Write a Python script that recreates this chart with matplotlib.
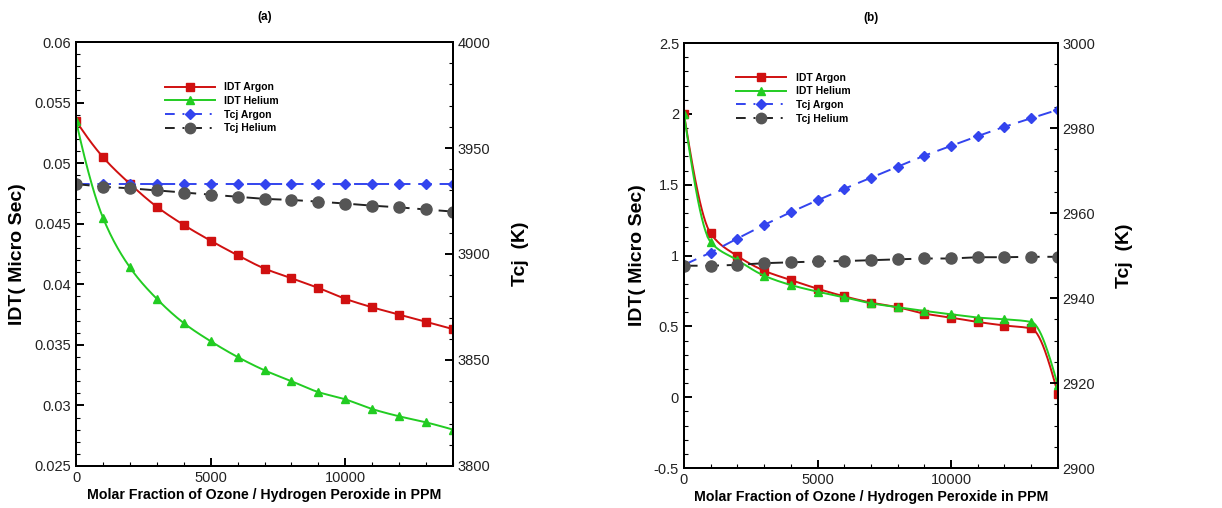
import numpy as np
import matplotlib
matplotlib.use('Agg')
from matplotlib import pyplot as plt
from matplotlib.ticker import MultipleLocator, AutoMinorLocator, FormatStrFormatter
from matplotlib.lines import Line2D

plt.rcParams['font.family'] = ['Liberation Sans', 'DejaVu Sans']

ppm = [0, 1000, 2000, 3000, 4000, 5000, 6000, 7000, 8000, 9000, 10000, 11000, 12000, 13000, 14000]

# panel (a)
idt_argon_a = [0.0535, 0.0505, 0.0483, 0.0464, 0.0449, 0.0436, 0.0424, 0.0413, 0.0405, 0.0397,
               0.0388, 0.0381, 0.0375, 0.0369, 0.0363]
idt_helium_a = [0.0535, 0.0455, 0.0414, 0.0388, 0.0368, 0.0353, 0.0340, 0.0329, 0.0320, 0.0311,
                0.0305, 0.0297, 0.0291, 0.0286, 0.0280]
tcj_argon_a = [3933, 3933, 3933, 3933, 3933, 3933, 3933, 3933, 3933, 3933, 3933, 3933, 3933, 3933, 3933]
tcj_helium_a = [3933, 3931.7, 3931, 3930, 3929, 3928, 3927, 3926, 3925.5, 3924.7, 3923.8, 3922.8,
                3922, 3921, 3920]

# panel (b)
idt_argon_b = [2.0, 1.156, 0.997, 0.893, 0.827, 0.766, 0.712, 0.668, 0.635, 0.590, 0.562, 0.531,
               0.506, 0.485, 0.026]
idt_helium_b = [2.0, 1.095, 0.968, 0.858, 0.792, 0.745, 0.705, 0.663, 0.635, 0.609, 0.585, 0.562,
                0.550, 0.531, 0.083]
tcj_argon_b = [2947.8, 2950.7, 2954.0, 2957.2, 2960.2, 2963.0, 2965.7, 2968.3, 2970.9, 2973.5,
               2975.8, 2978.1, 2980.3, 2982.3, 2984.3]
tcj_helium_b = [2947.6, 2947.6, 2947.8, 2948.2, 2948.4, 2948.6, 2948.7, 2948.9, 2949.1, 2949.3,
                2949.3, 2949.6, 2949.6, 2949.7, 2949.7]

RED = '#d01010'
GREEN = '#22cc22'
BLUE = '#3344ee'
GREY = '#555555'
TICK_FONT = 10.5
LABEL_FONT = 14


def smooth(x, y, n=400):
    # monotone cubic hermite curve through the points (Fritsch-Carlson)
    x = np.asarray(x, float)
    y = np.asarray(y, float)
    h = np.diff(x)
    d = np.diff(y) / h
    m = np.zeros_like(y)
    for k in range(1, len(x) - 1):
        if d[k - 1] * d[k] > 0:
            w1 = 2 * h[k] + h[k - 1]
            w2 = h[k] + 2 * h[k - 1]
            m[k] = (w1 + w2) / (w1 / d[k - 1] + w2 / d[k])

    def end_slope(h0, h1, d0, d1):
        s = ((2 * h0 + h1) * d0 - h0 * d1) / (h0 + h1)
        if np.sign(s) != np.sign(d0):
            return 0.0
        if np.sign(d0) != np.sign(d1) and abs(s) > abs(3 * d0):
            return 3 * d0
        return s

    m[0] = end_slope(h[0], h[1], d[0], d[1])
    m[-1] = end_slope(h[-1], h[-2], d[-1], d[-2])
    xs = np.linspace(x[0], x[-1], n)
    k = np.clip(np.searchsorted(x, xs) - 1, 0, len(x) - 2)
    t = (xs - x[k]) / h[k]
    h00 = 2 * t**3 - 3 * t**2 + 1
    h10 = t**3 - 2 * t**2 + t
    h01 = -2 * t**3 + 3 * t**2
    h11 = t**3 - t**2
    ys = h00 * y[k] + h10 * h[k] * m[k] + h01 * y[k + 1] + h11 * h[k] * m[k + 1]
    return xs, ys


def style_axis(ax, which):
    for s in ax.spines.values():
        s.set_linewidth(1.4)
    ax.tick_params(axis='both', which='major', direction='in', length=6, width=1.4,
                   labelsize=TICK_FONT, labelcolor='#222222')
    ax.tick_params(axis='both', which='minor', direction='in', length=3, width=0.8)
    if which == 'left':
        ax.tick_params(axis='y', which='both', left=True, right=False)
        ax.tick_params(axis='x', which='both', bottom=True, top=False)
    else:
        ax.tick_params(axis='y', which='both', left=False, right=True)


def draw_panel(rect, title, idt_ar, idt_he, tcj_ar, tcj_he, ylim, ystep, tlim, tstep, tminor, legend_at):
    ax = fig.add_axes(rect)
    xs, ys = smooth(ppm, idt_ar)
    ax.plot(xs, ys, color=RED, lw=1.4)
    ax.plot(ppm, idt_ar, 's', color=RED, ms=5.5, mec=RED)
    xs, ys = smooth(ppm, idt_he)
    ax.plot(xs, ys, color=GREEN, lw=1.4)
    ax.plot(ppm, idt_he, '^', color=GREEN, ms=5.5, mec=GREEN)
    ax.set_xlim(0, 14000)
    ax.set_ylim(*ylim)
    ax.xaxis.set_major_locator(MultipleLocator(5000))
    ax.xaxis.set_minor_locator(AutoMinorLocator(5))
    ax.yaxis.set_major_locator(MultipleLocator(ystep))
    ax.yaxis.set_minor_locator(AutoMinorLocator(5))
    ax.yaxis.set_major_formatter(FormatStrFormatter('%g'))
    style_axis(ax, 'left')
    ax.set_ylabel('IDT( Micro Sec)', fontsize=LABEL_FONT, fontweight='bold', labelpad=6)
    ax.set_xlabel('Molar Fraction of Ozone / Hydrogen Peroxide in PPM', fontsize=10.2,
                  fontweight='bold', labelpad=2)
    ax.set_title(title, fontsize=8.5, fontweight='bold', pad=16)

    tw = ax.twinx()
    tw.plot(ppm, tcj_ar, color=BLUE, lw=1.4, ls=(0, (7, 4)), marker='D', ms=5.5, mec=BLUE)
    tw.plot(ppm, tcj_he, color='#222222', lw=1.4, ls=(0, (7, 4)), marker='o', ms=8,
            mfc=GREY, mec=GREY)
    tw.set_ylim(*tlim)
    tw.yaxis.set_major_locator(MultipleLocator(tstep))
    tw.yaxis.set_minor_locator(AutoMinorLocator(tminor))
    style_axis(tw, 'right')
    tw.set_ylabel('Tcj  (K)', fontsize=LABEL_FONT, fontweight='bold', labelpad=15)

    handles = [
        Line2D([], [], color=RED, lw=1.4, marker='s', ms=5.5),
        Line2D([], [], color=GREEN, lw=1.4, marker='^', ms=5.5),
        Line2D([], [], color=BLUE, lw=1.4, ls=(0, (5, 4, 1, 4)), marker='D', ms=5.5),
        Line2D([], [], color='#222222', lw=1.4, ls=(0, (5, 4, 1, 4)), marker='o', ms=7.5,
               mfc=GREY, mec=GREY),
    ]
    tw.legend(handles, ['IDT Argon', 'IDT Helium', 'Tcj Argon', 'Tcj Helium'],
              loc='upper left', bbox_to_anchor=legend_at, frameon=False,
              prop={'size': 7.5, 'weight': 'bold'}, handlelength=4.8, handletextpad=0.9,
              labelspacing=0.35, borderaxespad=0, borderpad=0)
    return ax, tw


fig = plt.figure(figsize=(12.22, 5.08), dpi=100)

draw_panel([0.0622, 0.0827, 0.3085, 0.8346], '(a)', idt_argon_a, idt_helium_a,
           tcj_argon_a, tcj_helium_a, (0.025, 0.06), 0.005, (3800, 4000), 50, 5,
           (0.235, 0.905))
draw_panel([0.5597, 0.0787, 0.3060, 0.8366], '(b)', idt_argon_b, idt_helium_b,
           tcj_argon_b, tcj_helium_b, (-0.5, 2.5), 0.5, (2900, 3000), 20, 4,
           (0.14, 0.93))

fig.savefig('out.png', dpi=100)
